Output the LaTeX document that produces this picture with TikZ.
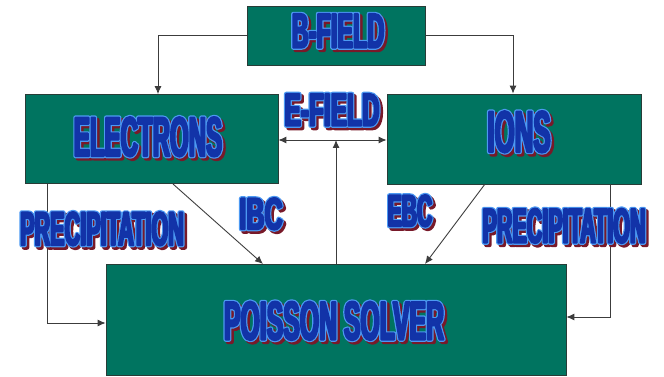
\documentclass[tikz,border=0pt]{standalone}
\usepackage{fontspec}
\usetikzlibrary{arrows.meta}
\definecolor{boxgreen}{RGB}{0,116,96}
\definecolor{boxedge}{RGB}{40,60,55}
\definecolor{fxfill}{RGB}{18,52,168}
\definecolor{fxrim}{RGB}{77,153,242}
\definecolor{fxshadow}{RGB}{120,25,40}
\definecolor{wire}{RGB}{60,60,60}

% Poster-style lettering, three layers of the same word in text render
% mode 2 (fill and stroke): maroon drop shadow, light blue rim, dark blue face
\newcommand\fxpaint[2]{\special{pdf:literal direct 2 Tr #1 w 1 j #2 RG}}
\newcommand\fxreset{\special{pdf:literal direct 0 Tr 0 j}}
\newcommand\fxtext[3]{{%
  \fontspec{Liberation Sans}[FakeStretch=#2]\fontsize{#1}{#1}\selectfont\bfseries
  \makebox[0pt][l]{\kern2.4pt\raisebox{-2.4pt}{\color{fxshadow}\fxpaint{4.4}{0.47 0.1 0.16}#3\fxreset}}%
  \makebox[0pt][l]{\color{fxrim}\fxpaint{4.4}{0.3 0.6 0.95}#3\fxreset}%
  {\color{fxfill}\fxpaint{2}{0.07 0.2 0.66}#3\fxreset}}}

\tikzset{
  block/.style={draw=boxedge, line width=0.8pt, fill=boxgreen, inner sep=0pt},
  label/.style={inner sep=0pt},
  link/.style={draw=wire, line width=0.9pt, -{Latex[length=8pt,width=7pt]}},
  dlink/.style={draw=wire, line width=0.9pt, {Latex[length=8pt,width=7pt]}-{Latex[length=8pt,width=7pt]}}
}

\begin{document}
\begin{tikzpicture}[x=1pt, y=-1pt]
  \useasboundingbox (0,0) rectangle (664,377);

  % blocks
  \node[block, minimum width=178pt, minimum height=59pt] (bfield) at (336.5,35.5) {};
  \node[block, minimum width=253pt, minimum height=89pt] (electrons) at (151.5,139) {};
  \node[block, minimum width=254pt, minimum height=90pt] (ions) at (514,139) {};
  \node[block, minimum width=460pt, minimum height=111pt] (poisson) at (336,319.5) {};

  % connectors
  \coordinate (bl) at (158,35.5);
  \coordinate (br) at (513,35.5);
  \draw[link] (bfield.west) -- (bl) -- (bl |- electrons.north);
  \draw[link] (bfield.east) -- (br) -- (br |- ions.north);

  \coordinate (emid) at (336,140);
  \draw[dlink] (electrons.east |- emid) -- (ions.west |- emid);
  \draw[link] (poisson.north -| emid) -- (emid);

  \coordinate (eout) at (173,184);
  \coordinate (iin) at (263,264);
  \draw[link] (eout) -- (iin);
  \coordinate (iout) at (485,184);
  \coordinate (ein) at (425,264);
  \draw[link] (iout) -- (ein);

  \coordinate (pl) at (47,323);
  \draw[link] (pl |- electrons.south) -- (pl) -- (poisson.west |- pl);
  \coordinate (pr) at (610,317);
  \draw[link] (pr |- ions.south) -- (pr) -- (poisson.east |- pr);

  % lettering
  \node[label] (tb) at (338,32) {\fxtext{48.9pt}{0.48}{B-FIELD}};
  \node[label] (te) at (148,138) {\fxtext{55.9pt}{0.43}{ELECTRONS}};
  \node[label] (ti) at (519,133) {\fxtext{58.7pt}{0.44}{IONS}};
  \node[label] (tf) at (332,111) {\fxtext{46.1pt}{0.53}{E-FIELD}};
  \node[label] (tpl) at (102,230) {\fxtext{47.5pt}{0.455}{PRECIPITATION}};
  \node[label] (tibc) at (261,215) {\fxtext{44.7pt}{0.56}{IBC}};
  \node[label] (tebc) at (410,212) {\fxtext{44.7pt}{0.47}{EBC}};
  \node[label] (tpr) at (564,227) {\fxtext{48.9pt}{0.44}{PRECIPITATION}};
  \node[label] (tps) at (334,322) {\fxtext{54.5pt}{0.455}{POISSON SOLVER}};
\end{tikzpicture}
\end{document}
